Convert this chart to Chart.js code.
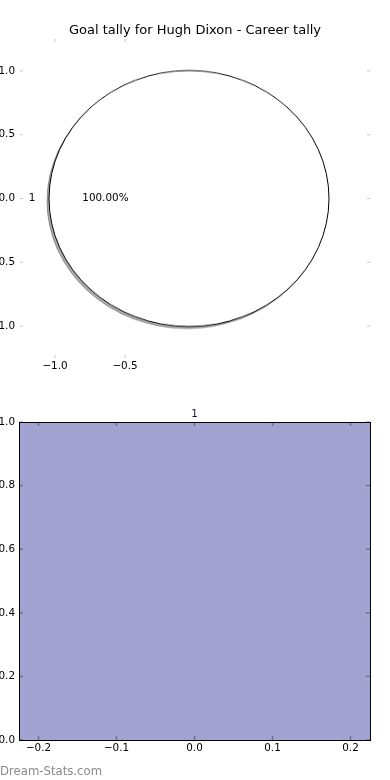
<!DOCTYPE html>
<html>
<head>
<meta charset="utf-8">
<title>Goal tally for Hugh Dixon</title>
<script src="https://cdn.jsdelivr.net/npm/chart.js@4.4.1/dist/chart.umd.min.js"></script>
<style>
    body { margin: 0; background: #fff; }
    #wrap { position: relative; width: 390px; height: 780px; overflow: hidden; }
    canvas { position: absolute; }
</style>
</head>
<body>
<div id="wrap">
    <canvas id="pieShadow" style="z-index:0"></canvas>
    <canvas id="pieTop" style="z-index:1"></canvas>
    <canvas id="axesTop" width="390" height="390" style="left:0;top:0;width:390px;height:390px;z-index:2"></canvas>
    <canvas id="barBottom" width="390" height="390" style="left:0;top:390px;width:390px;height:390px"></canvas>
</div>
<script>
// Pie (career tally)
const TITLE = 'Goal tally for Hugh Dixon - Career tally';
const pieLabels = ['1'];
const pieValues = [1];
const pieCenter = [-0.04, 0];
const pieXTicks = [-1.0, -0.5];
const pieYTicks = [-1.0, -0.5, 0.0, 0.5, 1.0];

// Bar (goals per category)
const barLabels = ['1'];
const barX = [0];
const barValues = [1];
const barWidth = 0.45;
const barXTicks = [-0.2, -0.1, 0.0, 0.1, 0.2];
const barYTicks = [0.0, 0.2, 0.4, 0.6, 0.8, 1.0];

Chart.defaults.font.family = '"DejaVu Sans", sans-serif';
Chart.defaults.font.size = 10.4;
Chart.defaults.color = '#000';

// matplotlib style tick text, with a real minus sign
const fmt = v => (v < 0 ? '\u2212' : '') + Math.abs(v).toFixed(1);
const fixTicks = list => scale => { scale.ticks = list.map(value => ({ value })); };
const noLines = { grid: { display: false, drawTicks: false }, border: { display: false } };

// short tick marks pointing into the plot area, on all four sides
const innerTicks = {
    id: 'innerTicks',
    afterDraw(chart, args, opts) {
        const { ctx, chartArea: a, scales } = chart;
        const len = opts.length || 4;
        ctx.save();
        ctx.strokeStyle = opts.color || '#bbb';
        ctx.lineWidth = opts.width || 1;
        ctx.beginPath();
        scales.x.ticks.forEach((t, i) => {
            const px = scales.x.getPixelForTick(i);
            ctx.moveTo(px, a.top); ctx.lineTo(px, a.top + len);
            ctx.moveTo(px, a.bottom); ctx.lineTo(px, a.bottom - len);
        });
        scales.y.ticks.forEach((t, i) => {
            const py = scales.y.getPixelForTick(i);
            ctx.moveTo(a.left, py); ctx.lineTo(a.left + len, py);
            ctx.moveTo(a.right, py); ctx.lineTo(a.right - len, py);
        });
        ctx.stroke();
        ctx.restore();
    }
};

// slice label (outside) and percentage (inside), placed like matplotlib does
const pieText = {
    id: 'pieText',
    afterDraw(chart) {
        const { ctx, scales: { x, y } } = chart;
        const total = pieValues.reduce((s, v) => s + v, 0);
        let start = 0;
        ctx.save();
        ctx.font = '10.4px "DejaVu Sans"';
        ctx.fillStyle = '#000';
        ctx.textBaseline = 'middle';
        pieValues.forEach((v, i) => {
            const frac = v / total;
            const mid = (start + frac * 180) * Math.PI / 180;
            const c = Math.cos(mid), s = Math.sin(mid);
            ctx.textAlign = c < 0 ? 'right' : 'left';
            ctx.fillText(pieLabels[i], x.getPixelForValue(pieCenter[0] + 1.1 * c), y.getPixelForValue(pieCenter[1] + 1.1 * s));
            ctx.textAlign = 'center';
            ctx.fillText((frac * 100).toFixed(2) + '%', x.getPixelForValue(pieCenter[0] + 0.6 * c), y.getPixelForValue(pieCenter[1] + 0.6 * s));
            start += frac * 360;
        });
        ctx.restore();
    }
};

const axesChart = new Chart(document.getElementById('axesTop'), {
    type: 'scatter',
    data: { datasets: [] },
    options: {
        responsive: false,
        animation: false,
        events: [],
        layout: { padding: 0 },
        plugins: {
            legend: { display: false },
            tooltip: { enabled: false },
            title: {
                display: true,
                text: TITLE,
                color: '#000',
                font: { size: 13, weight: 'normal', lineHeight: 1 },
                padding: { top: 24, bottom: 2 }
            },
            innerTicks: { color: '#c4c4c4', length: 3 }
        },
        scales: {
            x: {
                type: 'linear', min: -1.25, max: 1.25,
                afterBuildTicks: fixTicks(pieXTicks),
                afterFit: s => { s.height = 32; },
                ...noLines,
                ticks: { callback: fmt, padding: 2, maxRotation: 0, autoSkip: false }
            },
            y: {
                type: 'linear', min: -1.25, max: 1.25,
                afterBuildTicks: fixTicks(pieYTicks),
                afterFit: s => { s.width = 20; },
                ...noLines,
                ticks: { callback: fmt, padding: 5, autoSkip: false }
            },
            // empty margin on the right, so the title stays centred on the page
            yRight: {
                type: 'linear', position: 'right', min: -1.25, max: 1.25,
                afterFit: s => { s.width = 20; },
                ...noLines,
                ticks: { display: false }
            }
        }
    },
    plugins: [innerTicks, pieText]
});

// outline of each slice, drawn from the arc geometry Chart.js computed
const arcOutline = {
    id: 'arcOutline',
    afterDatasetsDraw(chart, args, opts) {
        if (!opts.color) return;
        const ctx = chart.ctx;
        ctx.save();
        ctx.strokeStyle = opts.color;
        ctx.lineWidth = 1;
        chart.getDatasetMeta(0).data.forEach(arc => {
            const { x, y, startAngle, endAngle, outerRadius } =
                arc.getProps(['x', 'y', 'startAngle', 'endAngle', 'outerRadius']);
            ctx.beginPath();
            if (endAngle - startAngle < Math.PI * 2 - 1e-9) {
                ctx.moveTo(x, y);
                ctx.arc(x, y, outerRadius, startAngle, endAngle);
                ctx.closePath();
            } else {
                ctx.arc(x, y, outerRadius, 0, Math.PI * 2);
            }
            ctx.stroke();
        });
        ctx.restore();
    }
};

// size the pie canvas from the axes scales (x and y units differ, so the pie is an ellipse)
const xs = axesChart.scales.x, ys = axesChart.scales.y;
const cx = xs.getPixelForValue(pieCenter[0]);
const cy = ys.getPixelForValue(pieCenter[1]);
const rx = xs.getPixelForValue(1) - xs.getPixelForValue(0);
const ry = ys.getPixelForValue(0) - ys.getPixelForValue(1);
const pad = 6;
const side = Math.round(2 * rx + 2 * pad);
const cssH = side * ry / rx;

function makePie(id, fill, edge, dx, dy) {
    const cv = document.getElementById(id);
    cv.width = side;
    cv.height = side;
    cv.style.width = side + 'px';
    cv.style.height = cssH + 'px';
    cv.style.left = (cx - side / 2 + dx) + 'px';
    cv.style.top = (cy - cssH / 2 + dy) + 'px';
    return new Chart(cv, {
        type: 'pie',
        data: {
            labels: pieLabels,
            datasets: [{
                data: pieValues,
                backgroundColor: fill,
                borderWidth: 0,
                hoverOffset: 0
            }]
        },
        options: {
            responsive: false,
            animation: false,
            events: [],
            rotation: 90,
            layout: { padding: pad },
            plugins: {
                legend: { display: false },
                tooltip: { enabled: false },
                arcOutline: { color: edge }
            }
        },
        plugins: [arcOutline]
    });
}

// matplotlib's shadow: darker copy shifted down-left by 0.02 data units
makePie('pieShadow', 'rgba(70,70,70,0.45)', 'rgba(40,40,40,0.4)', -0.02 * rx, 0.02 * ry);
makePie('pieTop', '#ffffff', '#000000', 0, 0);

// black frame round the bar plot
const frame = {
    id: 'frame',
    afterDatasetsDraw(chart) {
        const { ctx, chartArea: a } = chart;
        ctx.save();
        ctx.strokeStyle = '#000';
        ctx.lineWidth = 1;
        ctx.strokeRect(Math.round(a.left) + 0.5, Math.round(a.top) + 0.5,
            Math.round(a.right) - Math.round(a.left), Math.round(a.bottom) - Math.round(a.top));
        ctx.restore();
    }
};

const barText = {
    id: 'barText',
    afterDraw(chart) {
        const { ctx, scales: { x, y } } = chart;
        ctx.save();
        ctx.font = '10.4px "DejaVu Sans"';
        ctx.fillStyle = '#14143c';
        ctx.textAlign = 'center';
        ctx.textBaseline = 'alphabetic';
        barValues.forEach((v, i) => {
            ctx.fillText(barLabels[i], x.getPixelForValue(barX[i]), y.getPixelForValue(v) - 5.5);
        });
        ctx.font = '11.7px "DejaVu Sans"';
        ctx.fillStyle = '#8a8a8a';
        ctx.textAlign = 'left';
        ctx.fillText('Dream-Stats.com', 0, 384.7);
        ctx.restore();
    }
};

new Chart(document.getElementById('barBottom'), {
    type: 'bar',
    data: {
        datasets: [{
            data: barX.map((x, i) => ({ x, y: barValues[i] })),
            backgroundColor: '#a3a3d1',
            borderWidth: 0,
            // bar width given in data units, relative to the tick step
            barPercentage: barWidth / (barXTicks[1] - barXTicks[0]),
            categoryPercentage: 1
        }]
    },
    options: {
        responsive: false,
        animation: false,
        events: [],
        layout: { padding: { left: 0, right: 20, top: 32, bottom: 0 } },
        plugins: {
            legend: { display: false },
            tooltip: { enabled: false },
            innerTicks: { color: 'rgba(0,0,0,0.3)', length: 4, width: 1.5 }
        },
        scales: {
            x: {
                type: 'linear', min: -0.225, max: 0.225, offset: false,
                afterBuildTicks: fixTicks(barXTicks),
                afterFit: s => { s.height = 40; },
                ...noLines,
                ticks: { callback: fmt, padding: 2, maxRotation: 0, autoSkip: false }
            },
            y: {
                type: 'linear', min: 0, max: 1,
                afterBuildTicks: fixTicks(barYTicks),
                afterFit: s => { s.width = 19; },
                ...noLines,
                ticks: { callback: fmt, padding: 4, autoSkip: false }
            }
        }
    },
    plugins: [frame, innerTicks, barText]
});
</script>
</body>
</html>
